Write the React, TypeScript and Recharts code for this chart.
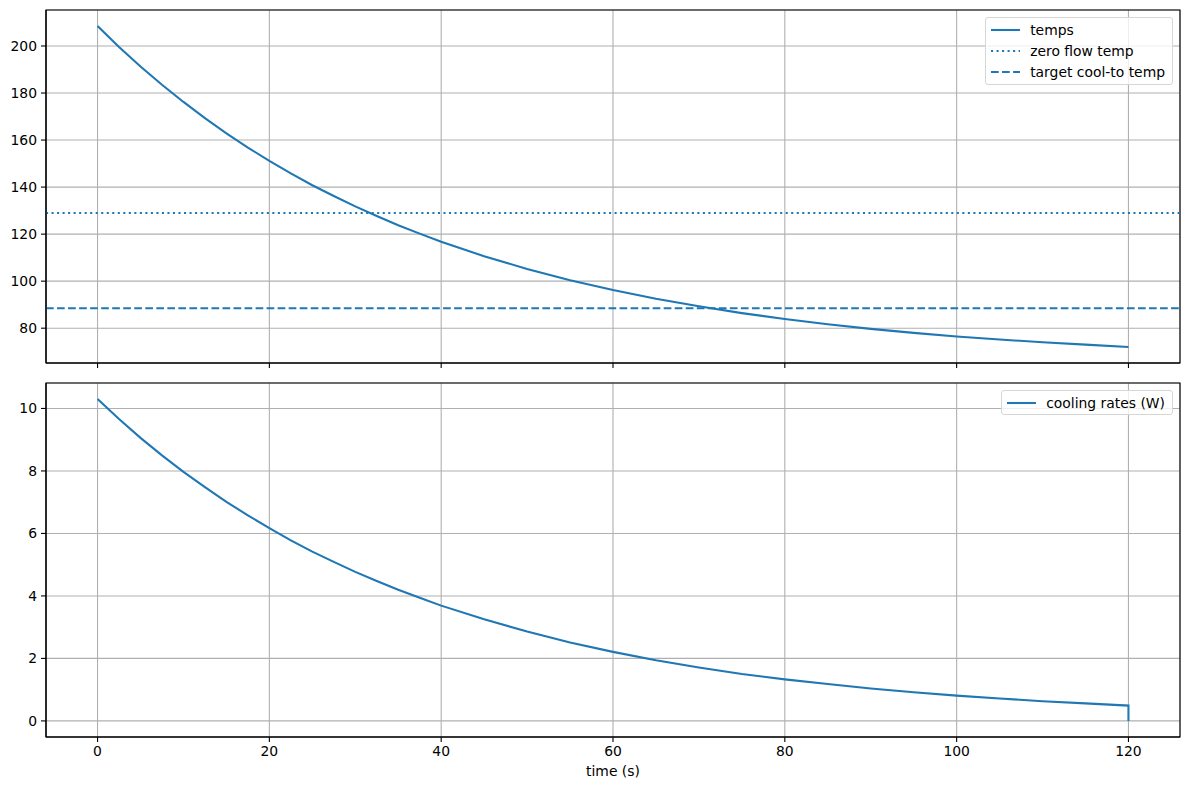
import React from 'react'
import {
  LineChart, Line, XAxis, YAxis, CartesianGrid, ReferenceLine, ReferenceArea, Legend,
} from 'recharts'

// time samples (s)
const TIMES = [0, 2.5, 5, 7.5, 10, 12.5, 15, 17.5, 20, 22.5, 25, 27.5, 30, 32.5, 35, 37.5, 40, 45, 50, 55, 60, 65, 70, 75, 80, 85, 90, 95, 100, 105, 110, 115, 120]
// temperatures
const TEMPS = [208.5, 199.6, 191.3, 183.5, 176.2, 169.3, 162.8, 156.8, 151.1, 145.8, 140.8, 136.2, 131.8, 127.7, 123.8, 120.2, 116.8, 110.6, 105.2, 100.4, 96.2, 92.5, 89.3, 86.4, 83.9, 81.7, 79.7, 78.0, 76.5, 75.2, 74.0, 73.0, 72.0]
// cooling rates (W), last sample drops to 0 at t=120
const COOLING = [10.3, 9.66, 9.06, 8.5, 7.97, 7.48, 7.01, 6.58, 6.17, 5.78, 5.42, 5.09, 4.77, 4.48, 4.2, 3.94, 3.69, 3.25, 2.86, 2.51, 2.21, 1.94, 1.71, 1.5, 1.33, 1.18, 1.04, 0.92, 0.81, 0.72, 0.63, 0.56, 0.49]
const COOLING_END = { t: 120, value: 0 }

const ZERO_FLOW_TEMP = 129
const TARGET_TEMP = 88.5

const X_TICKS = [0, 20, 40, 60, 80, 100, 120]
const TEMP_TICKS = [80, 100, 120, 140, 160, 180, 200]
const COOL_TICKS = [0, 2, 4, 6, 8, 10]

const X_DOMAIN: [number, number] = [-6, 126]
const TEMP_DOMAIN: [number, number] = [65.2, 215.3]
const COOL_DOMAIN: [number, number] = [-0.515, 10.815]

const BLUE = '#1f77b4'
const FONT = '"DejaVu Sans", sans-serif'
const FS = 13.9
const LW = 2.08
const DOTTED = '2.08 3.44'
const DASHED = '7.7 3.33'

const tempData = TIMES.map((t, i) => ({ t, temp: TEMPS[i] }))
const coolData = [...TIMES.map((t, i) => ({ t, value: COOLING[i] })), COOLING_END]

const tickStyle = { fill: '#000', fontSize: FS, fontFamily: FONT }
const tickLine = { stroke: '#000', strokeWidth: 1.1 }
const axisLine = { stroke: '#000', strokeWidth: 1.1 }

type Item = { label: string; dash?: string }

function LegendBox({ items }: { items: Item[] }) {
  return (
    <div style={{
      border: '1px solid #d6d6d6', borderRadius: 3, background: 'rgba(255,255,255,0.8)',
      padding: '1px 7px 1px 5px', fontFamily: FONT, fontSize: FS, color: '#000', boxSizing: 'border-box',
    }}>
      {items.map((it) => (
        <div key={it.label} style={{ display: 'flex', alignItems: 'center', height: 21.3, whiteSpace: 'nowrap' }}>
          <svg width={29} height={4} style={{ display: 'block' }}>
            <line x1={0} y1={2} x2={29} y2={2} stroke={BLUE} strokeWidth={LW} strokeDasharray={it.dash} />
          </svg>
          <span style={{ marginLeft: 10 }}>{it.label}</span>
        </div>
      ))}
    </div>
  )
}

const TOP_ITEMS: Item[] = [
  { label: 'temps' },
  { label: 'zero flow temp', dash: DOTTED },
  { label: 'target cool-to temp', dash: DASHED },
]
const BOTTOM_ITEMS: Item[] = [{ label: 'cooling rates (W)' }]

export default function App() {
  return (
    <div style={{ position: 'absolute', left: 0, top: 0, width: 1189, height: 790, background: '#fff' }}>
      {/* temps */}
      <div style={{ position: 'absolute', left: 0, top: 0 }}>
        <LineChart width={1189} height={373} data={tempData} margin={{ top: 10, right: 9, bottom: 0, left: 0 }}>
          <CartesianGrid stroke="#b0b0b0" strokeWidth={1.1} />
          <XAxis dataKey="t" type="number" domain={X_DOMAIN} ticks={X_TICKS} height={10}
            tickFormatter={() => ''} tickSize={5} tickLine={tickLine} axisLine={axisLine} />
          <YAxis type="number" domain={TEMP_DOMAIN} ticks={TEMP_TICKS} width={46}
            tick={tickStyle} tickSize={5} tickMargin={4} tickLine={tickLine} axisLine={axisLine} />
          <ReferenceArea x1={X_DOMAIN[0]} x2={X_DOMAIN[1]} y1={TEMP_DOMAIN[0]} y2={TEMP_DOMAIN[1]}
            fill="none" stroke="#000" strokeWidth={1.1} fillOpacity={0} />
          <ReferenceLine y={ZERO_FLOW_TEMP} stroke={BLUE} strokeWidth={LW} strokeDasharray={DOTTED} />
          <ReferenceLine y={TARGET_TEMP} stroke={BLUE} strokeWidth={LW} strokeDasharray={DASHED} />
          <Line dataKey="temp" type="linear" stroke={BLUE} strokeWidth={LW} dot={false} isAnimationActive={false} />
          <Legend layout="vertical" align="center" verticalAlign="middle"
            wrapperStyle={{ top: 17, right: 16, left: 'auto', width: 'auto' }}
            content={() => <LegendBox items={TOP_ITEMS} />} />
        </LineChart>
      </div>

      {/* cooling rates */}
      <div style={{ position: 'absolute', left: 0, top: 373 }}>
        <LineChart width={1189} height={417} data={coolData} margin={{ top: 10, right: 9, bottom: 0, left: 0 }}>
          <CartesianGrid stroke="#b0b0b0" strokeWidth={1.1} />
          <XAxis dataKey="t" type="number" domain={X_DOMAIN} ticks={X_TICKS} height={53}
            tick={tickStyle} tickSize={5} tickMargin={4} tickLine={tickLine} axisLine={axisLine}
            label={{ value: 'time (s)', position: 'insideBottom', offset: 14, fill: '#000', fontSize: FS, fontFamily: FONT }} />
          <YAxis type="number" domain={COOL_DOMAIN} ticks={COOL_TICKS} width={46}
            tick={tickStyle} tickSize={5} tickMargin={4} tickLine={tickLine} axisLine={axisLine} />
          <ReferenceArea x1={X_DOMAIN[0]} x2={X_DOMAIN[1]} y1={COOL_DOMAIN[0]} y2={COOL_DOMAIN[1]}
            fill="none" stroke="#000" strokeWidth={1.1} fillOpacity={0} />
          <Line dataKey="value" type="linear" stroke={BLUE} strokeWidth={LW} dot={false} isAnimationActive={false} />
          <Legend layout="vertical" align="center" verticalAlign="middle"
            wrapperStyle={{ top: 17, right: 16, left: 'auto', width: 'auto' }}
            content={() => <LegendBox items={BOTTOM_ITEMS} />} />
        </LineChart>
      </div>
    </div>
  )
}
